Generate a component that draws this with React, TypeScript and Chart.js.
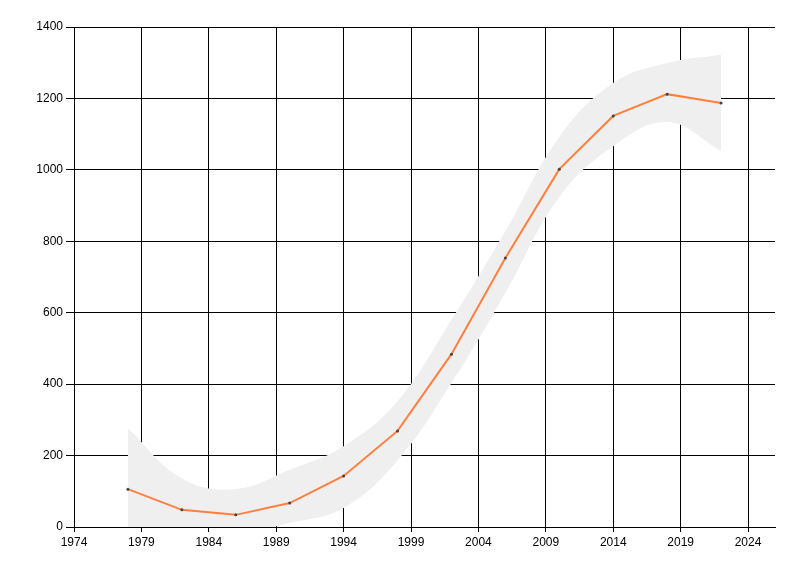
import { useEffect, useRef } from 'react';
import { Chart, registerables } from 'chart.js';

Chart.register(...registerables);

// 数据：年份与数值
const years = [1978, 1982, 1986, 1990, 1994, 1998, 2002, 2006, 2010, 2014, 2018, 2022];
const values = [106, 48, 34, 67, 143, 269, 484, 753, 1002, 1151, 1212, 1187];
// 置信带上下界
const upperBand = [276, 136, 106, 160, 226, 352, 580, 828, 1092, 1243, 1299, 1322];
const lowerBand = [-60, -40, -22, 11, 53, 186, 403, 655, 924, 1066, 1134, 1053];
// 坐标轴刻度
const xTicks = [1974, 1979, 1984, 1989, 1994, 1999, 2004, 2009, 2014, 2019, 2024];
const yTicks = [0, 200, 400, 600, 800, 1000, 1200, 1400];

const tickFont = { family: '"Liberation Sans", Arial, sans-serif', size: 12 };

export default function App() {
  const canvasRef = useRef<HTMLCanvasElement>(null);

  useEffect(() => {
    document.body.style.margin = '0';
    if (!canvasRef.current) return;

    const toPoints = (arr: number[]) => years.map((x, i) => ({ x, y: arr[i] }));

    const chart = new Chart(canvasRef.current, {
      type: 'line',
      data: {
        datasets: [
          {
            data: toPoints(values),
            borderColor: '#ff7f3f',
            borderWidth: 2,
            pointRadius: 1.5,
            pointBackgroundColor: '#444444',
            pointBorderWidth: 0,
            fill: false,
            tension: 0,
            order: 0,
          },
          {
            data: toPoints(lowerBand),
            borderWidth: 0,
            pointRadius: 0,
            fill: false,
            tension: 0.4,
            order: 1,
          },
          {
            data: toPoints(upperBand),
            borderWidth: 0,
            pointRadius: 0,
            backgroundColor: '#efefef',
            fill: '-1',
            tension: 0.4,
            order: 2,
          },
        ],
      },
      options: {
        responsive: false,
        animation: false,
        layout: { padding: { top: 27, right: 25, left: 0, bottom: 0 } },
        plugins: {
          legend: { display: false },
          tooltip: { enabled: false },
        },
        scales: {
          x: {
            type: 'linear',
            min: 1974,
            max: 2026,
            afterBuildTicks: (scale: any) => {
              scale.ticks = xTicks.map(v => ({ value: v }));
            },
            afterFit: (scale: any) => {
              scale.height = 49;
            },
            grid: { color: '#000', lineWidth: 1, tickLength: 5 },
            border: { color: '#000' },
            ticks: {
              color: '#000',
              font: tickFont,
              padding: 3,
              maxRotation: 0,
              autoSkip: false,
              callback: (v: any) => String(v),
            },
          },
          y: {
            type: 'linear',
            min: 0,
            max: 1400,
            afterBuildTicks: (scale: any) => {
              scale.ticks = yTicks.map(v => ({ value: v }));
            },
            afterFit: (scale: any) => {
              scale.width = 74;
            },
            grid: { color: '#000', lineWidth: 1, tickLength: 8 },
            border: { color: '#000' },
            ticks: {
              color: '#000',
              font: tickFont,
              padding: 3,
              callback: (v: any) => String(v),
            },
          },
        },
      },
    });

    return () => chart.destroy();
  }, []);

  return (
    <div style={{ position: 'absolute', left: 0, top: 0, width: 800, height: 576, background: '#fff' }}>
      <canvas ref={canvasRef} width={800} height={576}></canvas>
    </div>
  );
}
